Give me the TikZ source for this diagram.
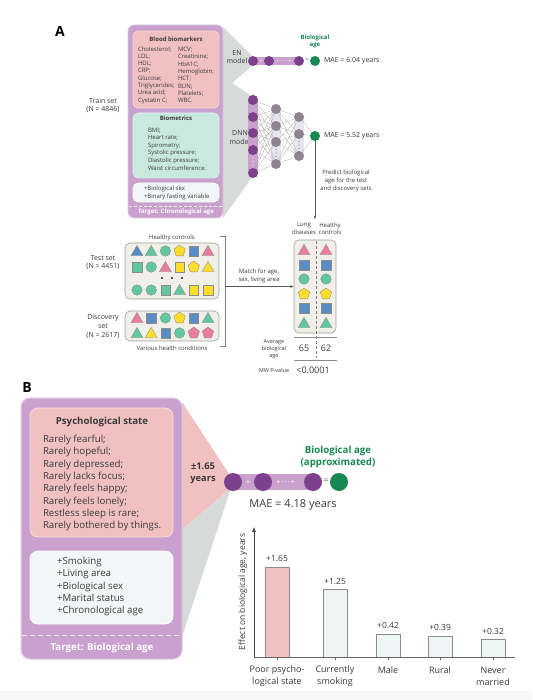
\documentclass[tikz,border=0pt]{standalone}
\usepackage{fontspec}
\setmainfont{Open Sans}
\usetikzlibrary{arrows.meta}
\definecolor{pbox}{RGB}{201,160,206}
\definecolor{pboxline}{RGB}{222,204,226}
\definecolor{pinkbox}{RGB}{241,193,193}
\definecolor{pinkline}{RGB}{248,220,220}
\definecolor{mintbox}{RGB}{202,233,222}
\definecolor{mintline}{RGB}{224,243,237}
\definecolor{whitebox}{RGB}{242,246,246}
\definecolor{dpurple}{RGB}{124,64,140}
\definecolor{dgreen}{RGB}{24,136,82}
\definecolor{gcirc}{RGB}{142,132,142}
\definecolor{funnel}{RGB}{214,219,217}
\definecolor{txt}{RGB}{58,58,58}
\definecolor{beige}{RGB}{240,240,233}
\definecolor{beigeline}{RGB}{160,160,152}
\definecolor{sblue}{RGB}{88,140,196}
\definecolor{sgreen}{RGB}{98,198,158}
\definecolor{spink}{RGB}{234,124,158}
\definecolor{syellow}{RGB}{255,222,42}
\definecolor{barl}{RGB}{238,245,245}
\definecolor{lgbar}{RGB}{232,228,236}
\newcommand\fsz[2]{\fontsize{#1}{#2}\selectfont}
\tikzset{
 shp/.style={draw=black!45, line width=0.35pt},
 pics/tri/.style={code={\draw[shp,fill=#1] (-6,4.7) -- (6,4.7) -- (0,-5.6) -- cycle;}},
 pics/sq/.style={code={\draw[shp,fill=#1] (-4.7,-4.7) rectangle (4.7,4.7);}},
 pics/ci/.style={code={\draw[shp,fill=#1] (0,0) circle (5.3pt);}},
 pics/pe/.style={code={\draw[shp,fill=#1] (0,-6) -- (5.7,-1.85) -- (3.53,4.85) -- (-3.53,4.85) -- (-5.7,-1.85) -- cycle;}},
}
\newcommand\shaperow[4]{%
 \foreach \s/\c [count=\i from 0] in {#4} {%
   \pgfmathsetmacro\xx{#1+#2*\i}%
   \edef\tmp{\noexpand\pic at (\xx,#3) {\s=\c};}\tmp}}
\begin{document}
\begin{tikzpicture}[x=1pt,y=-1pt,
 tn/.style={text=txt, inner sep=0pt, outer sep=0pt, align=center},
 tl/.style={text=txt, inner sep=0pt, outer sep=0pt, align=left, anchor=west},
 conn/.style={draw=black!32, line width=0.3pt},
 pc/.style={circle, fill=dpurple, inner sep=0pt, minimum size=#1},
 pc/.default=10pt,
 gc/.style={circle, fill=gcirc, inner sep=0pt, minimum size=10pt},
 oc/.style={circle, fill=dgreen, inner sep=0pt, minimum size=#1},
 oc/.default=10pt,
 arr/.style={draw=black!65, line width=0.5pt, -{Stealth[length=3.5pt,width=2.6pt]}},
 bigbox/.style={fill=pbox, draw=pboxline, line width=0.8pt},
 pinkb/.style={fill=pinkbox, draw=pinkline, line width=0.6pt},
 mintb/.style={fill=mintbox, draw=mintline, line width=0.6pt},
 whiteb/.style={fill=whitebox, draw=white, line width=0.6pt},
 bx/.style={draw=beigeline, fill=beige, line width=0.6pt, rounded corners=5pt, inner sep=0pt},
 wdash/.style={draw=white, dash pattern=on 3pt off 2pt, line width=0.5pt},
 barb/.style={draw=black!45, line width=0.5pt},
 ]
\useasboundingbox (0,0) rectangle (532,700);
\fill[white] (0,0) rectangle (532,700);
\fill[black!3] (0,691) rectangle (532,700);

% ================= PANEL A =================
\node[inner sep=0pt, font=\bfseries\fsz{14}{14}] (lblA) at (60,31) {A};

\fill[funnel] (223,27) -- (253,57) -- (253,65) -- (232,83) -- (253,97) -- (253,176) -- (223,218) -- cycle;
\draw[bigbox, rounded corners=6pt] (128,25) rectangle (223,218);

\draw[pinkb, rounded corners=5pt] (133,31) rectangle (219,108);
\node[tn, font=\bfseries\fsz{6}{7}] (bbt) at (176,39) {Blood biomarkers};
\node[tl, font=\fsz{6}{7.3}] (bbl) at (138,75) {Cholesterol;\\LDL;\\HDL;\\CRP;\\Glucose;\\Triglycerides;\\Urea acid;\\Cystatin C;};
\node[tl, font=\fsz{6}{7.3}] (bbr) at (178,75) {MCV;\\Creatinine;\\HbA1C;\\Hemoglobin;\\HCT;\\BUN;\\Platelets;\\WBC.};

\draw[mintb, rounded corners=5pt] (133,113) rectangle (219,178);
\node[tn, font=\bfseries\fsz{6}{7}] (bmt) at (176,118) {Biometrics};
\node[tl, font=\fsz{6}{7.6}] (bml) at (148,149) {BMI;\\Heart rate;\\Spirometry;\\Systolic pressure;\\Diastolic pressure;\\Waist circumference.};

\draw[whiteb, rounded corners=5pt] (133,183) rectangle (219,202);
\node[tl, font=\fsz{6}{8}] (extraA) at (144,193) {+Biological sex\\+Binary fasting variable};
\draw[wdash] (129,206) -- (222,206);
\node[tn, text=white, font=\bfseries\fsz{6}{7}] (targA) at (176,212) {Target: Chronological age};

\node[tn, font=\fsz{7}{8}] (train) at (103,105) {Train set\\(N = 4846)};
\node[tn, font=\fsz{7}{8}] (enlbl) at (237,57) {EN\\model};
\node[tn, font=\fsz{7}{8.5}] (dnnlbl) at (240,137.5) {DNN\\model};

% EN row
\draw[pbox, line width=8pt, line cap=round] (253,61) -- (299,61);
\node[pc] (en1) at (253,61) {};
\node[pc] (en2) at (269,61) {};
\node[pc] (en3) at (299,61) {};
\node[oc] (enout) at (315,61) {};
\node[inner sep=0pt, text=white, font=\fsz{5}{5}] (enp1) at (261,61) {+};
\node[inner sep=0pt, text=white, font=\fsz{5}{5}] (enp2) at (284,61) {+\,·\,·\,·\,·\,+};
\node[inner sep=0pt, text=black!55, font=\fsz{6}{6}] (eneq) at (307,60.5) {=};
\node[tn, text=dgreen, font=\bfseries\fsz{6}{7.3}] (biolbl) at (315,41.5) {Biological\\age};
\node[tl, font=\fsz{7}{8}] (mae1) at (324,61) {MAE = 6.04 years};

% DNN
\draw[pbox, line width=10pt, line cap=round] (253,100) -- (253,173);
\draw[lgbar, line width=10pt, line cap=round] (276,109) -- (276,164);
\draw[lgbar, line width=10pt, line cap=round] (299,117) -- (299,156);
\foreach \y [count=\i] in {100,117,133,150,173} {\node[pc] (a\i) at (253,\y) {};}
\foreach \y [count=\i] in {109,126,142,164} {\node[gc] (b\i) at (276,\y) {};}
\foreach \y [count=\i] in {117,134,156} {\node[gc] (c\i) at (299,\y) {};}
\node[oc] (dnnout) at (315,136) {};
\foreach \i in {1,...,5} {\foreach \j in {1,...,4} {\draw[conn] (a\i) -- (b\j);}}
\foreach \i in {1,...,4} {\foreach \j in {1,...,3} {\draw[conn] (b\i) -- (c\j);}}
\foreach \j in {1,...,3} {\draw[conn] (c\j) -- (dnnout);}
\foreach \y in {158,161.5,165} {\fill[white] (253,\y) circle (0.7pt);}
\foreach \y in {149.5,153,156.5} {\fill[gcirc] (276,\y) circle (0.7pt);}
\foreach \y in {141.5,145,148.5} {\fill[gcirc] (299,\y) circle (0.7pt);}
\node[tl, font=\fsz{7}{8}] (mae2) at (324,136) {MAE = 5.52 years};

\coordinate (predend) at (315,219);
\draw[arr] (dnnout) -- (predend);
\node[tn, font=\fsz{6}{7.7}] (predlbl) at (346,181) {Predict biological\\age for the test\\and discovery sets};

% Test / discovery
\node[tn, font=\fsz{7}{8.5}] (testlbl) at (103,262.5) {Test set\\(N = 4451)};
\node[tn, font=\fsz{7}{9}] (disclbl) at (103,326) {Discovery\\set\\(N = 2617)};
\node[tn, font=\fsz{6}{7}] (hclbl) at (172,238) {Healthy controls};
\node[tn, font=\fsz{6}{7}] (vhclbl) at (172,348) {Various health conditions};
\node[bx, minimum width=94pt, minimum height=56pt] (tbox) at (172,271) {};
\node[bx, minimum width=94pt, minimum height=30pt] (dbox) at (172,326) {};
\shaperow{137}{14.2}{251}{tri/sblue,tri/sgreen,ci/sgreen,pe/syellow,sq/sblue,tri/spink}
\shaperow{137}{14.2}{267}{sq/sgreen,ci/sgreen,tri/spink,sq/syellow,pe/syellow,tri/syellow}
\shaperow{137}{14.2}{290}{ci/sgreen,ci/sgreen,sq/sgreen,tri/sgreen,sq/syellow,sq/syellow}
\foreach \x in {162,172,182} {\fill[black!85] (\x,278) circle (1.1pt);}
\shaperow{137}{14.2}{318}{tri/spink,sq/sblue,ci/sgreen,pe/syellow,sq/sblue,tri/sgreen}
\shaperow{137}{14.2}{333}{tri/sgreen,tri/syellow,sq/sblue,ci/sgreen,pe/spink,pe/spink}

% bracket and matching arrow
\draw[draw=black!50, line width=0.5pt] (220,236) -- (225,236) -- (225,346) -- (220,346);
\coordinate (brkmid) at (225,286.5);
\node[bx, minimum width=42pt, minimum height=93pt] (mbox) at (315,286.5) {};
\draw[arr] (brkmid) -- (mbox.west);
\node[tn, font=\fsz{6}{7.5}] (matchlbl) at (259,276) {Match for age,\\sex, living area};
\node[tn, font=\fsz{6}{7.3}] (lunglbl) at (304,228.5) {Lung\\diseases};
\node[tn, font=\fsz{6}{7.3}] (hc2lbl) at (330,228.5) {Healthy\\controls};
\foreach \xx in {304,326} {
  \pic at (\xx,250) {tri=spink};
  \pic at (\xx,265) {sq=sblue};
  \pic at (\xx,279) {ci=sgreen};
  \pic at (\xx,294) {pe=syellow};
  \pic at (\xx,308) {sq=sblue};
  \pic at (\xx,323) {tri=sgreen};
}
\draw[black!50, dash pattern=on 3pt off 2pt, line width=0.5pt] (316,241) -- (316,358);
\draw[black!45, line width=0.5pt] (294,337) -- (337,337);
\draw[black!45, line width=0.5pt] (294,360) -- (337,360);
\node[tn, font=\fsz{9}{10}] (v65) at (304,348) {65};
\node[tn, font=\fsz{9}{10}] (v62) at (326,348) {62};
\node[tn, font=\fsz{5.5}{7}] (avglbl) at (274,349) {Average\\biological\\age};
\node[tn, font=\fsz{5.5}{7}] (mwlbl) at (274,370) {MW P-value};
\node[tn, font=\fsz{9}{10}] (pval) at (313,370) {<0.0001};

% ================= PANEL B =================
\node[inner sep=0pt, font=\bfseries\fsz{14}{14}] (lblB) at (27,388) {B};
\fill[pinkbox] (182,402) -- (231,477) -- (231,488) -- (182,530) -- cycle;
\fill[funnel] (182,530) -- (231,488) -- (182,637) -- cycle;
\draw[bigbox, line width=1pt, rounded corners=9pt] (21,398) rectangle (182,659);
\draw[pinkb, line width=0.8pt, rounded corners=8pt] (30,408) rectangle (173,537);
\node[tn, font=\bfseries\fsz{9.7}{11}] (psyt) at (102,422) {Psychological state};
\node[tl, font=\fsz{9.7}{12.3}] (psyl) at (43,483) {Rarely fearful;\\Rarely hopeful;\\Rarely depressed;\\Rarely lacks focus;\\Rarely feels happy;\\Rarely feels lonely;\\Restless sleep is rare;\\Rarely bothered by things.};
\draw[whiteb, line width=0.8pt, rounded corners=8pt] (30,551) rectangle (173,624);
\node[tl, font=\fsz{9.7}{12.25}] (extraB) at (57,586.5) {+Smoking\\+Living area\\+Biological sex\\+Marital status\\+Chronological age};
\draw[wdash, dash pattern=on 5pt off 3pt, opacity=0.8] (22,635) -- (181,635);
\node[tn, text=white, font=\bfseries\fsz{9.7}{11}] (targB) at (102,648) {Target: Biological age};

\node[tn, font=\bfseries\fsz{9.3}{12}] (pm) at (203,473) {±1.65\\years};
\draw[pbox, line width=16pt, line cap=round] (233,482) -- (313,482);
\node[pc=18pt] (b1) at (233,482) {};
\node[pc=18pt] (b2) at (263,482) {};
\node[pc=18pt] (b3) at (313,482) {};
\node[oc=18pt] (bout) at (339,482) {};
\node[inner sep=0pt, text=white, font=\fsz{7}{7}] (bp1) at (248,482) {+};
\node[inner sep=0pt, text=white, font=\fsz{7}{7}] (bp2) at (285.5,482) {+\,·\,·\,·\,+};
\node[inner sep=0pt, text=black!55, font=\fsz{9}{9}] (beq) at (326,481.5) {=};
\node[tn, text=dgreen, font=\bfseries\fsz{9.7}{12}] (bioB) at (338,457) {Biological age\\(approximated)};
\node[tn, font=\fsz{11}{12}] (maeB) at (293,505) {MAE = 4.18 years};

% bar chart
\draw[barb, fill=pinkbox] (265,657) rectangle (289,567);
\draw[barb, fill=barl] (323,657) rectangle (347,589);
\draw[barb, fill=barl] (376,657) rectangle (400,634);
\draw[barb, fill=barl] (428,657) rectangle (452,636);
\draw[barb, fill=barl] (481,657) rectangle (505,639);
\draw[black!60, line width=0.6pt] (254,657) -- (515,657);
\draw[black!75, line width=0.6pt, -{Latex[length=5pt,width=4pt]}] (254,657) -- (254,527);
\foreach \x in {277,335,388,440,493} {\draw[black!60, line width=0.6pt] (\x,657) -- (\x,660);}
\node[tn, font=\fsz{8.5}{10}] (l1) at (277,558) {+1.65};
\node[tn, font=\fsz{8.5}{10}] (l2) at (335,581) {+1.25};
\node[tn, font=\fsz{8.5}{10}] (l3) at (388,625) {+0.42};
\node[tn, font=\fsz{8.5}{10}] (l4) at (440,627) {+0.39};
\node[tn, font=\fsz{8.5}{10}] (l5) at (493,631) {+0.32};
\node[tn, font=\fsz{9}{12}] (x1) at (277,676) {Poor psycho-\\logical state};
\node[tn, font=\fsz{9}{12}] (x2) at (335,676) {Currently\\smoking};
\node[tn, font=\fsz{9}{12}] (x3) at (388,670) {Male};
\node[tn, font=\fsz{9}{12}] (x4) at (440,670) {Rural};
\node[tn, font=\fsz{9}{12}] (x5) at (493,676) {Never\\married};
\node[tn, rotate=90, font=\fsz{8.5}{10}] (ylab) at (243,592) {Effect on biological age, years};
\end{tikzpicture}
\end{document}
